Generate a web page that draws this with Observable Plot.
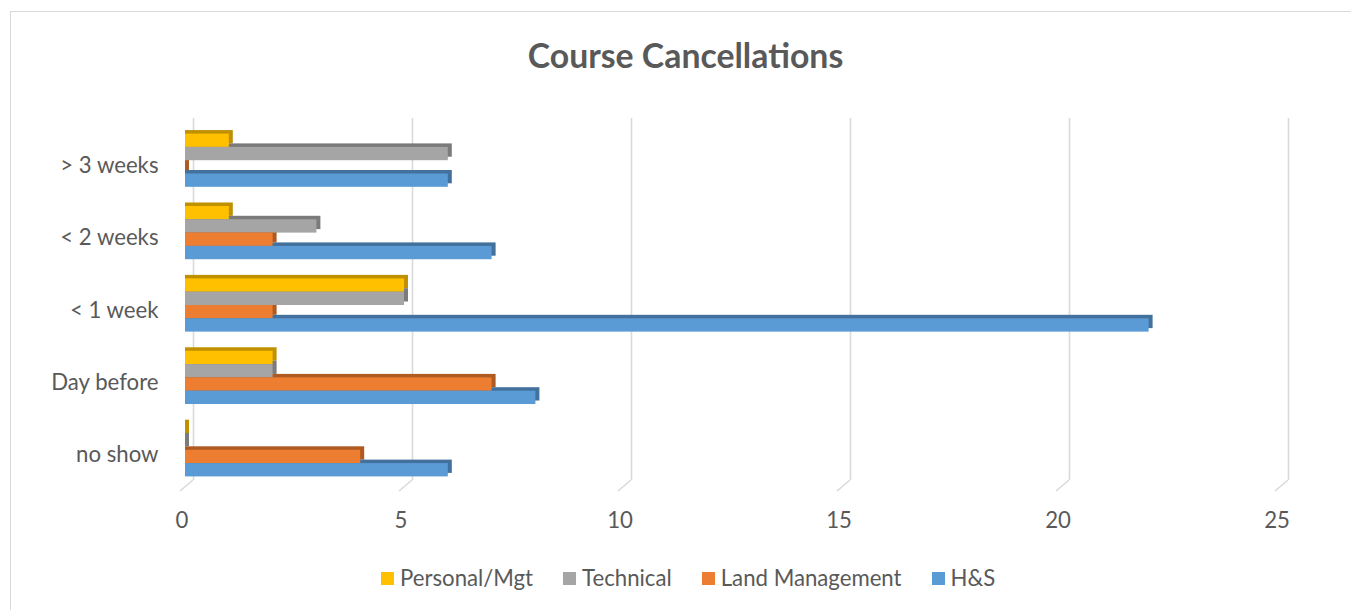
<!DOCTYPE html>
<html><head><meta charset="utf-8">
<script src="https://cdn.jsdelivr.net/npm/d3@7"></script>
<script src="https://cdn.jsdelivr.net/npm/@observablehq/plot@0.6"></script>
<style>
html,body{margin:0;padding:0;background:#fff;width:1351px;height:610px;overflow:hidden;position:relative;font-family:Lato,"Open Sans",sans-serif;}
#frame{position:absolute;left:10px;top:11px;width:1380px;height:620px;border:1px solid #d9d9d9;box-sizing:border-box;}
#title{position:absolute;left:10px;width:1351px;top:38px;text-align:center;font-size:33.8px;line-height:34px;font-weight:bold;color:#595959;}
#chart{position:absolute;left:0;top:100px;}
#legend{position:absolute;left:381px;top:566px;display:flex;align-items:center;font-size:22.2px;color:#595959;line-height:24px;}
#legend .item{display:flex;align-items:center;margin-right:30px;}
#legend .sw{width:13px;height:13px;margin-right:6px;}
</style></head>
<body>
<div id="frame"></div>
<div id="title">Course Cancellations</div>
<div id="chart"></div>
<div id="legend"></div>
<script>
const categories = ["> 3 weeks", "< 2 weeks", "< 1 week", "Day before", "no show"];
const series = ["Personal/Mgt", "Technical", "Land Management", "H&S"];
const personalMgt = [1, 1, 5, 2, 0];
const technical = [6, 3, 5, 2, 0];
const landManagement = [0, 2, 2, 7, 4];
const hs = [6, 7, 22, 8, 6];
const xTicks = [0, 5, 10, 15, 20, 25];
const colors = ["#FFC000", "#A5A5A5", "#ED7D31", "#5B9BD5"];
const darkColors = ["#BF9000", "#7B7B7B", "#AE5A21", "#41719C"];

const seriesValues = [personalMgt, technical, landManagement, hs];
const rows = categories.flatMap((c, i) => series.map((s, j) => ({category: c, series: s, value: seriesValues[j][i]})));

const plot = Plot.plot({
  width: 1351, height: 440,
  marginLeft: 185, marginRight: 71, marginTop: 24, marginBottom: 54,
  style: {fontFamily: "Lato, 'Open Sans', sans-serif", fontSize: "22.2px", color: "#595959", background: "transparent", overflow: "visible"},
  facet: {data: rows, y: "category", marginTop: 0, marginBottom: 0, marginLeft: 0, marginRight: 0},
  fy: {domain: categories, padding: 0, round: false, label: null, tickSize: 0, tickPadding: 27, axis: "left"},
  y: {domain: series, axis: null, paddingInner: 0, paddingOuter: 0.72, round: false},
  x: {domain: [0, 25], ticks: xTicks, tickSize: 0, tickPadding: 26, label: null, tickFormat: d => String(d)},
  marks: [
    Plot.ruleX(xTicks, {x: d => d, stroke: "#d9d9d9", strokeWidth: 1.6, dx: 8, dy: -6}),
    ...series.map((s, j) => Plot.barX(rows, {filter: d => d.series === s, x: "value", y: "series", fill: darkColors[j], insetRight: -4, dy: -3.5})),
    ...series.map((s, j) => Plot.barX(rows, {filter: d => d.series === s, x: "value", y: "series", fill: colors[j]}))
  ]
});
document.getElementById("chart").appendChild(plot);

// post-adjustments using the plot's own scales
const svg = d3.select(plot.tagName.toLowerCase() === "svg" ? plot : plot.querySelector("svg"));
svg.selectAll('[aria-label^="fy-axis"]').attr("transform", function() {
  const t = this.getAttribute("transform") || "";
  return t + " translate(0,5)";
});
svg.selectAll('[aria-label^="x-axis"]').attr("transform", function() {
  const t = this.getAttribute("transform") || "";
  return t + " translate(-3.5,0)";
});
const xs = plot.scale("x");
const fys = plot.scale("fy");
const bottom = fys.apply(categories[categories.length - 1]) + fys.bandwidth - 6;
xTicks.forEach(t => {
  const px = xs.apply(t) + 8;
  svg.append("line").attr("x1", px).attr("y1", bottom).attr("x2", px - 13).attr("y2", bottom + 11)
    .attr("stroke", "#d9d9d9").attr("stroke-width", 1.6);
});

const legend = d3.select("#legend");
series.forEach((s, j) => {
  const it = legend.append("div").attr("class", "item");
  it.append("div").attr("class", "sw").style("background", colors[j]);
  it.append("span").text(s);
});
</script>
</body></html>
